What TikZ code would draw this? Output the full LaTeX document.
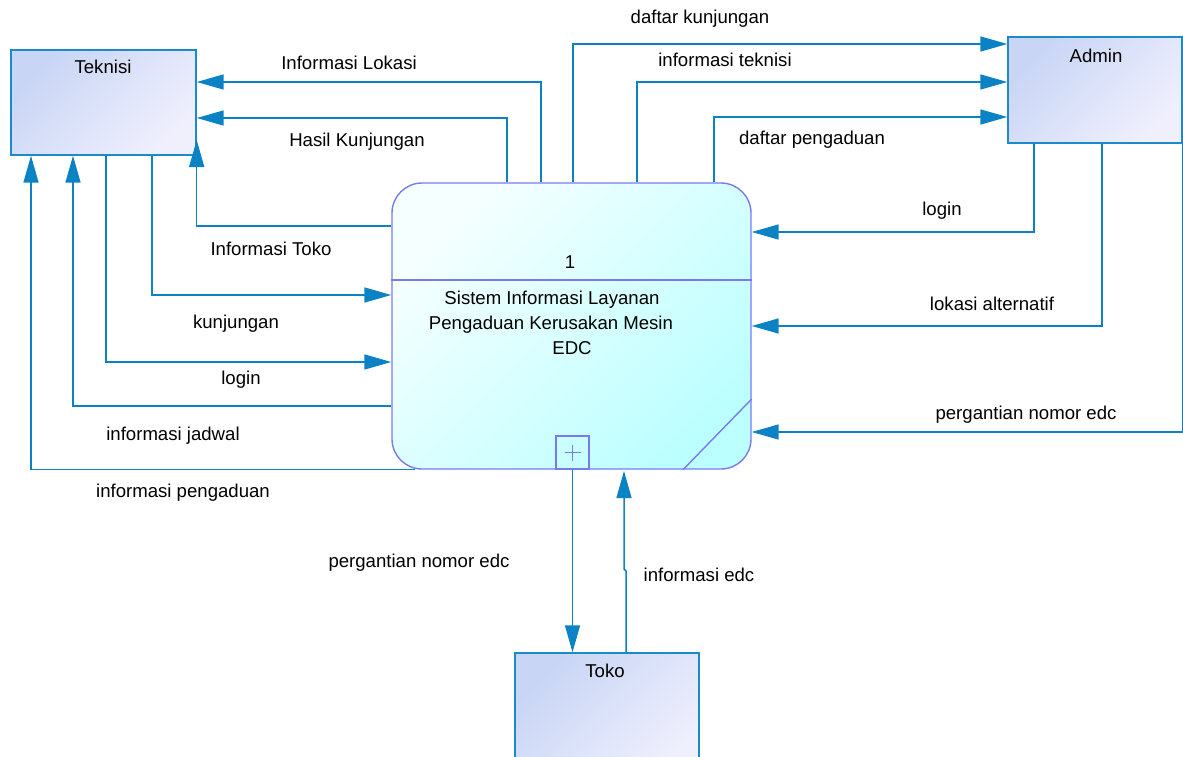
\documentclass[tikz,border=0pt]{standalone}
\usepackage{fontspec}
\setmainfont{Liberation Sans}
\usetikzlibrary{arrows.meta}
\definecolor{lineblue}{HTML}{0A82C4}
\definecolor{entborder}{HTML}{1C8AC8}
\definecolor{entA}{HTML}{C8D5F5}
\definecolor{entB}{HTML}{F0F0FD}
\definecolor{procborder}{HTML}{7A7AF0}
\definecolor{procA}{HTML}{F6FFFF}
\definecolor{procB}{HTML}{BCFFFF}
\tikzset{
  entity/.style={draw=entborder, line width=1.4pt, top color=entA, bottom color=entB, shading angle=45, inner sep=0pt},
  procbox/.style={draw=procborder, line width=1.4pt, rounded corners=30pt, top color=procA, bottom color=procB, shading angle=45, inner sep=0pt},
  procline/.style={draw=procborder, line width=1.4pt},
  flow/.style={draw=lineblue, line width=1.5pt, -{Triangle[length=27pt,width=15pt]}},
  txt/.style={inner sep=0pt, text height=13pt, text depth=4pt, anchor=center, yshift=-2pt}
}
\begin{document}
\begin{tikzpicture}[x=1pt,y=-1pt,font=\fontsize{18.6}{22}\selectfont]
\useasboundingbox (0,0) rectangle (1183,757);
\clip (0,0) rectangle (1183,757);

% entities
\node[entity, minimum width=185pt, minimum height=105pt] (teknisi) at (103.5,102.5) {};
\node[entity, minimum width=174pt, minimum height=106pt] (admin) at (1095,90) {};
\node[entity, minimum width=184pt, minimum height=130pt] (toko) at (607,718) {};
\node[txt] (teknisiT) at (103,67) {Teknisi};
\node[txt] (adminT) at (1096,56) {Admin};
\node[txt] (tokoT) at (605,671) {Toko};

% process
\node[procbox, minimum width=359pt, minimum height=286pt] (proc) at (571.5,326) {};
\draw[procline] (proc.west |- 0,280) -- (proc.east |- 0,280);
\node[draw=procborder, line width=1.4pt, minimum size=33pt, inner sep=0pt] (plus) at (572.5,452.5) {};
\draw[procborder, line width=1.4pt] ([xshift=-8pt]plus.center) -- ([xshift=8pt]plus.center);
\draw[procborder, line width=1.4pt] ([yshift=-8pt]plus.center) -- ([yshift=8pt]plus.center);
\draw[procline] (proc.south -| 683,0) -- (proc.east |- 0,399);
\node[txt] (procnum) at (570,262) {1};
\node[txt] (procL1) at (552,298) {Sistem Informasi Layanan};
\node[txt] (procL2) at (551,323) {Pengaduan Kerusakan Mesin};
\node[txt] (procL3) at (572,348) {EDC};

% process -> Teknisi (top)
\draw[flow] (proc.north -| 541,0) |- (teknisi.east |- 0,82);
\draw[flow] (proc.north -| 507,0) |- (teknisi.east |- 0,118);
\draw[flow] (proc.west |- 0,226) -| (teknisi.east |- 0,140);
% Teknisi -> process
\draw[flow] (teknisi.south -| 152,0) |- (proc.west |- 0,295);
\draw[flow] (teknisi.south -| 106,0) |- (proc.west |- 0,362);
% process -> Teknisi (bottom)
\draw[flow] (proc.west |- 0,406) -| (teknisi.south -| 73,0);
\draw[flow] (proc.south -| 415,0) -| (teknisi.south -| 31,0);

% process -> Admin
\draw[flow] (proc.north -| 573,0) |- (admin.west |- 0,44);
\draw[flow] (proc.north -| 637,0) |- (admin.west |- 0,82);
\draw[flow] (proc.north -| 714,0) |- (admin.west |- 0,117);
% Admin -> process
\draw[flow] (admin.south -| 1034,0) |- (proc.east |- 0,232);
\draw[flow] (admin.south -| 1102,0) |- (proc.east |- 0,326);
\draw[flow] (admin.south east) |- (proc.east |- 0,432);

% Toko
\draw[flow] (plus.south) -- (toko.north -| plus.south);
\coordinate (jogA) at (626,571);
\coordinate (jogB) at (624,569);
\draw[flow] (toko.north -| 626,0) -- (jogA) -- (jogB) -- (624,471);

% flow labels
\node[txt] (l1) at (349,63) {Informasi Lokasi};
\node[txt] (l2) at (357,140) {Hasil Kunjungan};
\node[txt] (l3) at (271,249) {Informasi Toko};
\node[txt] (l4) at (236,322) {kunjungan};
\node[txt] (l5) at (241,378) {login};
\node[txt] (l6) at (173,434) {informasi jadwal};
\node[txt] (l7) at (183,491) {informasi pengaduan};
\node[txt] (l8) at (700,17) {daftar kunjungan};
\node[txt] (l9) at (725,60) {informasi teknisi};
\node[txt] (l10) at (812,138) {daftar pengaduan};
\node[txt] (l11) at (942,209) {login};
\node[txt] (l12) at (992,304) {lokasi alternatif};
\node[txt] (l13) at (1026,413) {pergantian nomor edc};
\node[txt] (l14) at (419,561) {pergantian nomor edc};
\node[txt] (l15) at (699,575) {informasi edc};
\end{tikzpicture}
\end{document}
